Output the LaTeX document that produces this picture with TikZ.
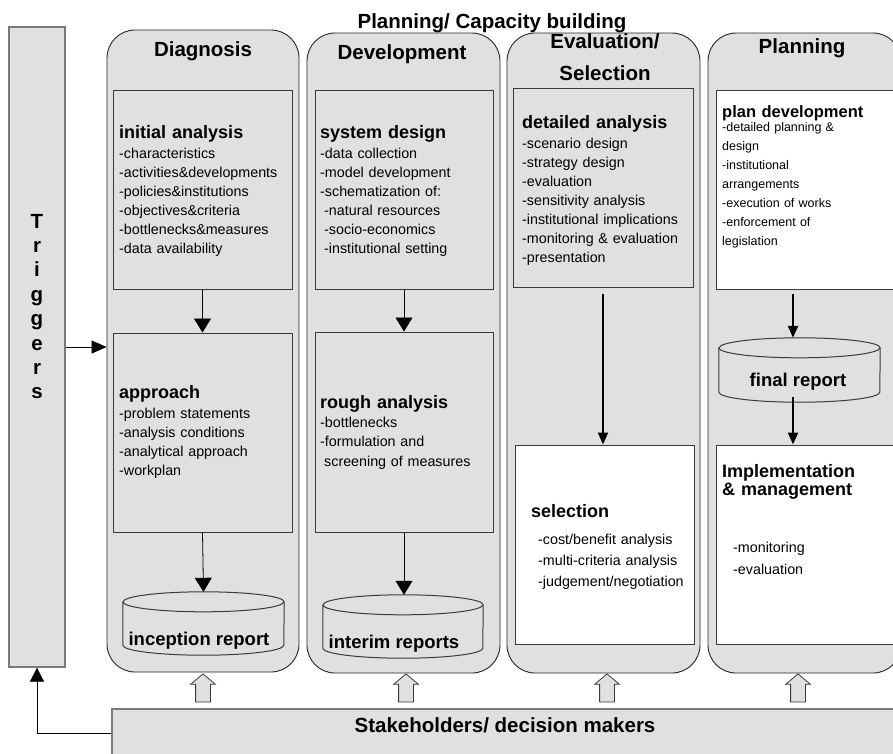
\documentclass[tikz,border=0pt]{standalone}
\usepackage{fontspec}
\setmainfont{Liberation Sans}
\usetikzlibrary{arrows.meta,fit,shapes.arrows}

\definecolor{panel}{HTML}{E0E0E0}
\definecolor{edge}{HTML}{3A3A3A}
\definecolor{softedge}{HTML}{7A7A7A}

\tikzset{
  column/.style={draw=black!85, line width=0.9pt, fill=panel, rounded corners=28pt, inner sep=0pt},
  graybox/.style={draw=edge, line width=1pt, fill=panel, inner sep=0pt},
  whitebox/.style={draw=edge, line width=1pt, fill=white, inner sep=0pt},
  sidebox/.style={draw=softedge, line width=1.3pt, fill=panel, inner sep=0pt},
  colhead/.style={font=\fontsize{20.5}{24}\selectfont\bfseries, anchor=base, inner sep=0pt},
  boxhead/.style={font=\fontsize{18}{18}\selectfont\bfseries, anchor=base west, inner sep=0pt, text width=185pt, align=left},
  bodytext/.style={font=\fontsize{14.3}{19}\selectfont, anchor=base west, inner sep=0pt, text width=185pt, align=left},
  drumlabel/.style={font=\fontsize{18.5}{20}\selectfont\bfseries, anchor=base, inner sep=0pt},
  cylbox/.style={inner sep=0pt, draw=none},
  cylpath/.style={draw=edge, line width=1pt, fill=panel},
  flow/.style={draw=black, line width=0.8pt, -{Triangle[width=17pt,length=14pt]}},
  boldflow/.style={draw=black, line width=2.2pt, -{Triangle[width=10pt,length=12pt]}},
  blockup/.style={shape=single arrow, draw=edge, fill=panel, line width=0.8pt,
    shape border rotate=90, minimum height=28pt, minimum width=24pt,
    single arrow head extend=5pt, single arrow tip angle=100,
    inner xsep=7pt, inner ysep=7pt},
}

% report drum: #1 node name, #2 half width, #3 cap radius
\newcommand{\drawdrum}[3]{%
  \path[cylpath] ([yshift=-#3]#1.north west) -- ([yshift=#3]#1.south west)
    arc[start angle=180, end angle=360, x radius=#2, y radius=#3]
    -- ([yshift=-#3]#1.north east)
    arc[start angle=0, end angle=180, x radius=#2, y radius=#3] -- cycle;
  \draw[cylpath, fill=none] ([yshift=-#3]#1.north west)
    arc[start angle=180, end angle=360, x radius=#2, y radius=#3];}

\begin{document}
\begin{tikzpicture}[x=1pt, y=-1pt]
\useasboundingbox (0,0) rectangle (893,753);
\fill[white] (0,0) rectangle (893,753);
\clip (0,0) rectangle (893,753);

% title
\node[colhead] (title) at (492,28) {Planning/ Capacity building};

% side bars
\node[sidebox, fit={(9,27) (65,667)}] (trig) {};
\node[colhead, text width=30pt, align=center, font=\fontsize{20.5}{24.4}\selectfont\bfseries] (trigtext) at (37,228) {T\\r\\i\\g\\g\\e\\r\\s};
\node[sidebox, fit={(112,709) (905,757)}] (sh) {};
\node[colhead] (shtext) at (505,732) {Stakeholders/ decision makers};

% phase columns
\node[column, fit={(107,30) (299,672)}] (diag) {};
\node[column, fit={(307,33) (500,673)}] (dev) {};
\node[column, fit={(507,33) (700,673)}] (eval) {};
\node[column, fit={(708,33) (901,673)}] (plan) {};

\node[colhead] (hdiag) at (203,56) {Diagnosis};
\node[colhead] (hdev) at (402,59) {Development};
\node[colhead, text width=190pt, align=center, font=\fontsize{20.5}{32}\selectfont\bfseries] (heval) at (605,48) {Evaluation/\\Selection};
\node[colhead] (hplan) at (802,53) {Planning};

% Diagnosis
\node[graybox, fit={(113,90) (292,289)}] (ia) {};
\node[graybox, fit={(113,333) (292,532)}] (ap) {};
\node[cylbox, fit={(123,592) (284,655)}] (inc) {};
\drawdrum{inc}{80.5pt}{10pt}
\node[boxhead] (iahead) at (119,138) {initial analysis};
\node[bodytext] (iabody) at (119,158) {-characteristics\\-activities\&developments\\-policies\&institutions\\-objectives\&criteria\\-bottlenecks\&measures\\-data availability};
\node[boxhead] (aphead) at (119,398) {approach};
\node[bodytext] (apbody) at (119,418) {-problem statements\\-analysis conditions\\-analytical approach\\-workplan};
\node[drumlabel] (inclab) at (199,645) {inception report};

% Development
\node[graybox, fit={(315,90) (493,289)}] (sd) {};
\node[graybox, fit={(315,332) (493,532)}] (ra) {};
\node[cylbox, fit={(323,595) (483,658)}] (itr) {};
\drawdrum{itr}{80pt}{10pt}
\node[boxhead] (sdhead) at (320,138) {system design};
\node[bodytext] (sdbody) at (320,158) {-data collection\\-model development\\-schematization of:\\\hspace*{4pt}-natural resources\\\hspace*{4pt}-socio-economics\\\hspace*{4pt}-institutional setting};
\node[boxhead] (rahead) at (320,408) {rough analysis};
\node[bodytext, font=\fontsize{14.3}{19.5}\selectfont] (rabody) at (320,427) {-bottlenecks\\-formulation and\\\hspace*{4pt}screening of measures};
\node[drumlabel] (itrlab) at (394,648) {interim reports};

% Evaluation / Selection
\node[graybox, fit={(513,88) (693,287)}] (da) {};
\node[whitebox, fit={(515,445) (694,644)}] (sel) {};
\node[boxhead] (dahead) at (522,128) {detailed analysis};
\node[bodytext] (dabody) at (522,148) {-scenario design\\-strategy design\\-evaluation\\-sensitivity analysis\\-institutional implications\\-monitoring \& evaluation\\-presentation};
\node[boxhead] (selhead) at (531,517) {selection};
\node[bodytext, font=\fontsize{14.3}{21}\selectfont] (selbody) at (538,544) {-cost/benefit analysis\\-multi-criteria analysis\\-judgement/negotiation};

% Planning
\node[whitebox, fit={(716,90) (905,289)}] (pd) {};
\node[cylbox, fit={(719,338) (880,402)}] (fin) {};
\drawdrum{fin}{80.5pt}{10pt}
\node[whitebox, fit={(716,445) (905,644)}] (im) {};
\node[boxhead, font=\fontsize{16.5}{18}\selectfont\bfseries] (pdhead) at (722,117) {plan development};
\node[bodytext, font=\fontsize{12.5}{19}\selectfont] (pdbody) at (722,131) {-detailed planning \&\\design\\-institutional\\arrangements\\-execution of works\\-enforcement of\\legislation};
\node[drumlabel] (finlab) at (798,386) {final report};
\node[boxhead] (imhead) at (722,477) {Implementation\\\& management};
\node[bodytext, font=\fontsize{14.3}{22}\selectfont] (imbody) at (733,552) {-monitoring\\-evaluation};

% flow between steps
\draw[flow] (ia.south) -- (ap.north);
\draw[flow] (ap.south) -- (inc.north);
\draw[flow] (sd.south) -- (ra.north);
\draw[flow] (ra.south) -- (ra.south |- itr.north);
\draw[boldflow, shorten <=6pt] (da.south) -- (da.south |- sel.north);
\draw[boldflow, shorten <=4pt] ([xshift=-6.5pt]fin.north |- pd.south) -- ([xshift=-6.5pt]fin.north);
\draw[boldflow, shorten <=-5pt] ([xshift=-6.5pt]fin.south) -- ([xshift=-6.5pt]fin.south |- im.north);

% triggers and stakeholder feedback
\draw[draw=black, line width=0.8pt, -{Triangle[width=13pt,length=15pt]}] (trig.east) -- (trig.east -| diag.west);
\draw[draw=black, line width=0.8pt, -{Triangle[width=14pt,length=14pt]}] (sh.west) -| (trig.south);

% stakeholder input to each phase
\node[blockup] (up1) at (203,691) {};
\node[blockup] (up2) at (406,691) {};
\node[blockup] (up3) at (607,691) {};
\node[blockup] (up4) at (798,691) {};
\end{tikzpicture}
\end{document}
